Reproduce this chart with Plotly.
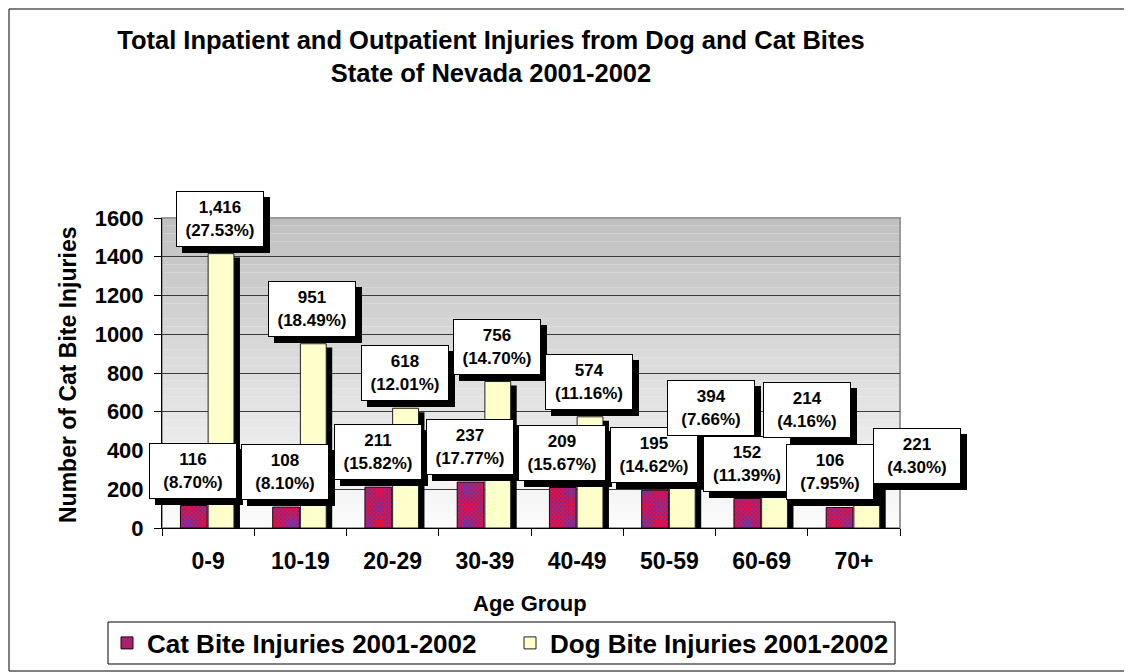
import numpy as np
import plotly.graph_objects as go

# data
age_groups = ["0-9", "10-19", "20-29", "30-39", "40-49", "50-59", "60-69", "70+"]
cat_bites = [116, 108, 211, 237, 209, 195, 152, 106]
cat_pct = [8.70, 8.10, 15.82, 17.77, 15.67, 14.62, 11.39, 7.95]
dog_bites = [1416, 951, 618, 756, 574, 394, 214, 221]
dog_pct = [27.53, 18.49, 12.01, 14.70, 11.16, 7.66, 4.16, 4.30]

FONT = "Liberation Sans, Arial, sans-serif"
W, H = 1132, 672
# the page body adds an 8px offset, margins are set with that in mind
L, R, T, B = 154, 240, 210, 152
pw, ph = W - L - R, H - T - B

def px_x(px):
    return (px - L) / pw

def px_y(py):
    return (H - B - py) / ph

fig = go.Figure()

# black 3d-ish side of the dog bars
shadow_drop = 20
fig.add_trace(go.Bar(
    x=age_groups, y=[v - shadow_drop for v in dog_bites],
    offset=0.065, width=0.28,
    marker=dict(color="black", line=dict(width=0)),
    showlegend=False, hoverinfo="skip"))

fig.add_trace(go.Bar(
    x=age_groups, y=cat_bites, name="Cat Bite Injuries 2001-2002",
    offset=-0.30, width=0.29, legend="legend",
    marker=dict(color="#b3205a", line=dict(color="#200010", width=1),
                pattern=dict(shape="x", size=3, solidity=0.45,
                             fgcolor="#3a3ad0", bgcolor="#ee1038",
                             fillmode="replace"))))

fig.add_trace(go.Bar(
    x=age_groups, y=dog_bites, name="Dog Bite Injuries 2001-2002",
    offset=0.0, width=0.28, legend="legend2",
    marker=dict(color="#ffffcc", line=dict(color="#202020", width=1))))

# gradient plot background (grey at top -> white at bottom)
edges = np.linspace(0, 1600, 41)
for lo, hi in zip(edges[:-1], edges[1:]):
    g = int(round(251 - (lo / 1600) * 60))
    fig.add_shape(type="rect", xref="x domain", yref="y", x0=0, x1=1, y0=lo, y1=hi,
                  fillcolor=f"rgb({g},{g},{g})", line=dict(width=0), layer="below")
fig.add_shape(type="rect", xref="x domain", yref="y domain", x0=0, x1=1, y0=0, y1=1,
              line=dict(color="#9a9a9a", width=2), layer="below")

# outer frame of the chart
fig.add_shape(type="rect", xref="paper", yref="paper",
              x0=px_x(1), x1=px_x(1122), y0=px_y(663), y1=px_y(1),
              line=dict(color="black", width=1))
# legend box
fig.add_shape(type="rect", xref="paper", yref="paper",
              x0=px_x(100), x1=px_x(887), y0=px_y(656), y1=px_y(614),
              line=dict(color="black", width=1), fillcolor="white")

# data labels with drop shadow
cat_nudge = [(0, 0)] * 7 + [(-9, 0)]
dog_nudge = [(0, 0)] * 5 + [(30, 9), (33, 42), (51, -6)]

def add_label(x, v, p, dx, dy):
    txt = f"{v:,}<br>({p:.2f}%)"
    common = dict(x=x, y=v, xref="x", yref="y", text=txt, showarrow=False,
                  yanchor="bottom", width=76, height=44, borderpad=5,
                  borderwidth=1, align="center",
                  font=dict(family=FONT, size=17, color="black", weight="bold"))
    return common, dx, dy

labels = []
for g, v, p, (nx, ny) in zip(age_groups, cat_bites, cat_pct, cat_nudge):
    labels.append(add_label(g, v, p, -15 + nx, 7 + ny))
for g, v, p, (nx, ny) in zip(age_groups, dog_bites, dog_pct, dog_nudge):
    labels.append(add_label(g, v, p, 12 + nx, 7 + ny))

for common, dx, dy in labels:
    fig.add_annotation(**common, xshift=dx + 6, yshift=dy - 6,
                       bgcolor="black", bordercolor="black")
for common, dx, dy in labels:
    fig.add_annotation(**common, xshift=dx, yshift=dy,
                       bgcolor="white", bordercolor="black")

# axis titles
fig.add_annotation(text="Age Group", xref="paper", yref="paper",
                   x=px_x(522), y=px_y(595), showarrow=False,
                   xanchor="center", yanchor="middle",
                   font=dict(family=FONT, size=22, weight="bold"))
fig.add_annotation(text="Number of Cat Bite Injuries", xref="paper", yref="paper",
                   x=px_x(60), y=px_y(367), showarrow=False, textangle=-90,
                   xanchor="center", yanchor="middle",
                   font=dict(family=FONT, size=23, weight="bold"))

legend_style = dict(orientation="h", xref="container", yref="container",
                    xanchor="left", y=1 - 635 / H, yanchor="middle",
                    bgcolor="rgba(0,0,0,0)", borderwidth=0,
                    font=dict(family=FONT, size=26, weight="bold", color="black"))

fig.update_layout(
    width=W, height=H, autosize=False,
    margin=dict(l=L, r=R, t=T, b=B, autoexpand=False),
    paper_bgcolor="white", plot_bgcolor="white",
    barmode="overlay",
    font=dict(family=FONT, color="black"),
    title=dict(text="Total Inpatient and Outpatient Injuries from Dog and Cat Bites<br>State of Nevada 2001-2002",
               x=483 / W, xanchor="center", xref="container",
               y=1 - 41 / H, yanchor="top", yref="container",
               font=dict(family=FONT, size=25.5, color="black", weight="bold")),
    xaxis=dict(type="category", range=[-0.5, len(age_groups) - 0.5], automargin=False,
               tickson="boundaries", ticks="outside", ticklen=7,
               tickcolor="black", showline=True, linecolor="black", linewidth=1,
               showgrid=False, ticklabelstandoff=12,
               tickfont=dict(family=FONT, size=23, weight="bold")),
    yaxis=dict(range=[0, 1600], dtick=200, ticks="outside", ticklen=7, automargin=False,
               tickcolor="black", showline=True, linecolor="black", linewidth=1,
               showgrid=True, gridcolor="#3a3a3a", gridwidth=1, zeroline=False,
               ticklabelstandoff=6,
               tickfont=dict(family=FONT, size=22, weight="bold")),
    legend=dict(**legend_style, x=99 / W),
    legend2=dict(**legend_style, x=502 / W),
)

fig.write_html("out.html")
